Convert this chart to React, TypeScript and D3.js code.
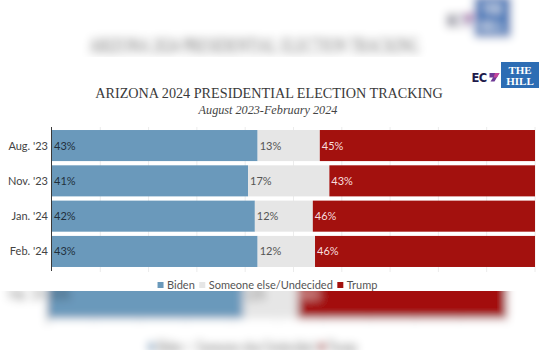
import * as d3 from "d3";
import { useRef, useEffect } from "react";

const categories = ["Aug. '23", "Nov. '23", "Jan. '24", "Feb. '24"];
const biden = [43, 41, 42, 43];
const undecided = [13, 17, 12, 12];
const trump = [45, 43, 46, 46];
const seriesKeys = ["biden", "undecided", "trump"];
const seriesNames = ["Biden", "Someone else/Undecided", "Trump"];
const seriesColors = ["#6a99bb", "#e6e6e6", "#a3110e"];
const labelColors = ["#22303c", "#555555", "#f7dede"];

const title = "ARIZONA 2024 PRESIDENTIAL ELECTION TRACKING";
const subtitle = "August 2023-February 2024";

const width = 550;
const height = 350;
const panelTop = 57;
const panelBottom = 291;
const marginLeft = 52;
const marginRight = 15;
const sans = "Lato, 'Noto Sans', sans-serif";
const serif = "'Liberation Serif', 'DejaVu Serif', serif";

type Row = { cat: string; biden: number; undecided: number; trump: number };

function drawChart(root: d3.Selection<SVGGElement, unknown, null, undefined>) {
  const rows: Row[] = categories.map((cat, i) => ({
    cat,
    biden: biden[i],
    undecided: undecided[i],
    trump: trump[i],
  }));

  // each row is spread across the full width
  const stacked = d3
    .stack<Row>()
    .keys(seriesKeys)
    .offset(d3.stackOffsetExpand)(rows);

  const x = d3
    .scaleLinear()
    .domain([0, 1])
    .range([marginLeft, width - marginRight]);

  const y = d3
    .scaleBand()
    .domain(categories)
    .range([127.9, 269.1])
    .paddingInner(0.12)
    .paddingOuter(0.06);

  root
    .append("rect")
    .attr("x", 0)
    .attr("y", panelTop)
    .attr("width", width)
    .attr("height", panelBottom - panelTop)
    .attr("fill", "#fff");

  root
    .append("text")
    .attr("x", 269)
    .attr("y", 98)
    .attr("text-anchor", "middle")
    .attr("font-family", serif)
    .attr("font-size", 14.2)
    .attr("fill", "#3a3a3a")
    .text(title);

  root
    .append("text")
    .attr("x", 268)
    .attr("y", 114)
    .attr("text-anchor", "middle")
    .attr("font-family", serif)
    .attr("font-style", "italic")
    .attr("font-size", 12.2)
    .attr("fill", "#444")
    .text(subtitle);

  // ECP mark
  const logo = root.append("g");
  logo
    .append("text")
    .attr("x", 471.5)
    .attr("y", 81.5)
    .attr("font-family", "'DejaVu Sans', sans-serif")
    .attr("font-weight", 700)
    .attr("font-size", 11.5)
    .attr("letter-spacing", -0.6)
    .attr("fill", "#1e1b4b")
    .text("EC");
  logo
    .append("path")
    .attr("d", "M489.5,73 L499.5,73 L494.5,81.5 L490.5,81.5 L493,77.5 L489.5,77.5 Z")
    .attr("fill", "#6e3a96");
  logo
    .append("path")
    .attr("d", "M495,73 L499.5,73 L497,77.5 L493.5,77.5 Z")
    .attr("fill", "#c4469b");

  // The Hill mark
  logo
    .append("rect")
    .attr("x", 501)
    .attr("y", 62)
    .attr("width", 38)
    .attr("height", 26)
    .attr("fill", "#2d6db4");
  logo
    .append("text")
    .attr("x", 520)
    .attr("y", 73.5)
    .attr("text-anchor", "middle")
    .attr("font-family", serif)
    .attr("font-weight", 700)
    .attr("font-size", 11)
    .attr("fill", "#fff")
    .text("THE");
  logo
    .append("text")
    .attr("x", 520)
    .attr("y", 85)
    .attr("text-anchor", "middle")
    .attr("font-family", serif)
    .attr("font-weight", 700)
    .attr("font-size", 11)
    .attr("fill", "#fff")
    .text("HILL");

  // faint gridlines every 10%
  root
    .append("g")
    .selectAll("line")
    .data(x.ticks(10).slice(1))
    .join("line")
    .attr("x1", (d) => x(d))
    .attr("x2", (d) => x(d))
    .attr("y1", 127)
    .attr("y2", 272)
    .attr("stroke", "#ececec")
    .attr("stroke-width", 1);

  const layers = root
    .append("g")
    .selectAll("g")
    .data(stacked)
    .join("g")
    .attr("fill", (_, i) => seriesColors[i]);

  layers
    .selectAll("rect")
    .data((d) => d)
    .join("rect")
    .attr("x", (d) => x(d[0]))
    .attr("y", (d) => y(d.data.cat) as number)
    .attr("width", (d) => x(d[1]) - x(d[0]))
    .attr("height", y.bandwidth());

  stacked.forEach((layer, i) => {
    root
      .append("g")
      .selectAll("text")
      .data(layer)
      .join("text")
      .attr("x", (d) => x(d[0]) + 2)
      .attr("y", (d) => (y(d.data.cat) as number) + y.bandwidth() / 2)
      .attr("dy", "0.36em")
      .attr("font-family", sans)
      .attr("font-size", 11)
      .attr("fill", labelColors[i])
      .text((d) => `${d.data[seriesKeys[i] as keyof Row]}%`);
  });

  // category axis
  root
    .append("line")
    .attr("x1", marginLeft - 0.5)
    .attr("x2", marginLeft - 0.5)
    .attr("y1", 127)
    .attr("y2", 271)
    .attr("stroke", "#3a3a3a")
    .attr("stroke-width", 1);

  root
    .append("g")
    .selectAll("text")
    .data(categories)
    .join("text")
    .attr("x", marginLeft - 4)
    .attr("y", (d) => (y(d) as number) + y.bandwidth() / 2)
    .attr("dy", "0.36em")
    .attr("text-anchor", "end")
    .attr("font-family", sans)
    .attr("font-size", 11)
    .attr("fill", "#444")
    .text((d) => d);

  // legend, laid out from the measured label widths
  const legend = root.append("g");
  let cursor = 0;
  const items = legend
    .selectAll("g")
    .data(seriesNames)
    .join("g");
  items
    .append("rect")
    .attr("y", -6.5)
    .attr("width", 6)
    .attr("height", 6)
    .attr("fill", (_, i) => seriesColors[i]);
  items
    .append("text")
    .attr("x", 9.5)
    .attr("font-family", sans)
    .attr("font-size", 11)
    .attr("fill", "#555")
    .text((d) => d);
  items.each(function () {
    const t = d3.select(this).select<SVGTextElement>("text").node();
    const w = t ? t.getComputedTextLength() : 0;
    d3.select(this).attr("transform", `translate(${cursor},0)`);
    cursor += 9.5 + w + 4.5;
  });
  const total = cursor - 4.5;
  legend.attr("transform", `translate(${267.5 - total / 2},288.5)`);
}

export default function App() {
  const ref = useRef<SVGSVGElement>(null);

  useEffect(() => {
    if (!ref.current) return;
    const svg = d3.select(ref.current);
    svg.selectAll("*").remove();

    const defs = svg.append("defs");
    defs
      .append("filter")
      .attr("id", "bgBlur")
      .attr("filterUnits", "userSpaceOnUse")
      .attr("x", -50)
      .attr("y", -50)
      .attr("width", width + 100)
      .attr("height", height + 100)
      .append("feGaussianBlur")
      .attr("stdDeviation", 4.5);
    defs
      .append("clipPath")
      .attr("id", "panelClip")
      .append("rect")
      .attr("x", 0)
      .attr("y", panelTop)
      .attr("width", width)
      .attr("height", panelBottom - panelTop);

    svg.append("rect").attr("width", width).attr("height", height).attr("fill", "#fff");

    // stretched, blurred copy behind the panel
    const bg = svg
      .append("g")
      .attr("filter", "url(#bgBlur)")
      .attr("aria-hidden", "true")
      .append("g")
      .attr("transform", "matrix(0.95,0,0,1.573,-1.4,-101.3)");
    drawChart(bg);

    const fg = svg.append("g").attr("clip-path", "url(#panelClip)");
    drawChart(fg);
  }, []);

  return (
    <>
      <style>{`body{margin:0}`}</style>
      <svg ref={ref} width={width} height={height} style={{ display: "block" }} />
    </>
  );
}
